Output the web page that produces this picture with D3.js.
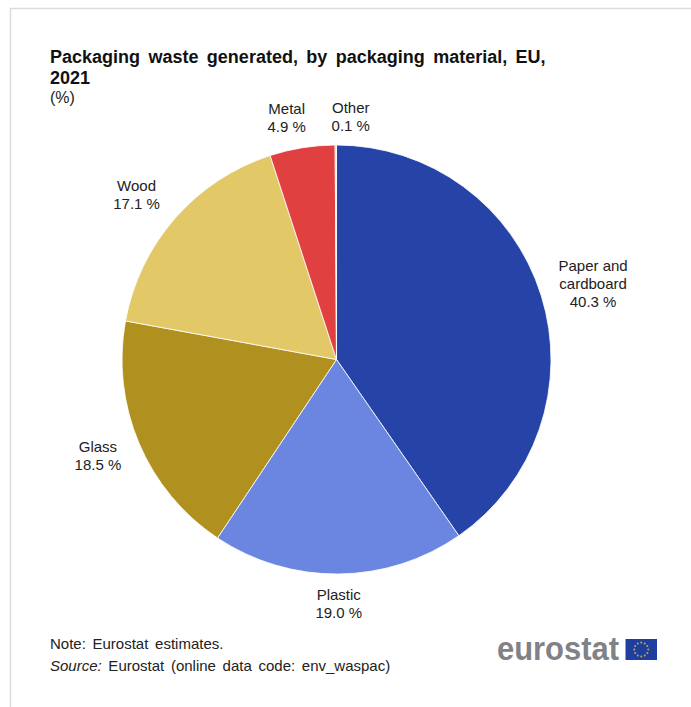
<!DOCTYPE html>
<html>
<head>
<meta charset="utf-8">
<script src="https://cdnjs.cloudflare.com/ajax/libs/d3/7.8.5/d3.min.js"></script>
<style>
  html, body { margin: 0; padding: 0; background: #fff; }
  svg { display: block; }
  text { font-family: "Liberation Sans", Arial, sans-serif; fill: #222; }
</style>
</head>
<body>
<svg id="chart" width="691" height="707"></svg>
<script>
const categories = ["Paper and cardboard", "Plastic", "Glass", "Wood", "Metal", "Other"];
const shares = [40.3, 19.0, 18.5, 17.1, 4.9, 0.1];
const sliceColors = ["#2644a7", "#6a86e0", "#b09120", "#e3c868", "#e04040", "#f0b8b0"];
const labelLines = [
  ["Paper and", "cardboard"],
  ["Plastic"],
  ["Glass"],
  ["Wood"],
  ["Metal"],
  ["Other"]
];
const titleLines = ["Packaging waste generated, by packaging material, EU,", "2021"];
const unitLabel = "(%)";
const noteText = "Note: Eurostat estimates.";
const sourceLabel = "Source:";
const sourceText = " Eurostat (online data code: env_waspac)";

const svg = d3.select("#chart");

// Frame: top and left rules only, running off the page on the other sides
svg.append("path")
  .attr("d", d3.line()([[10.5, 707], [10.5, 8.5], [691, 8.5]]))
  .attr("fill", "none")
  .attr("stroke", "#dcdcdc")
  .attr("stroke-width", 1.5);

// Title block
svg.append("g").selectAll("text").data(titleLines).join("text")
  .attr("x", 50)
  .attr("y", (d, i) => 63 + i * 21)
  .attr("font-size", 18)
  .attr("font-weight", 700)
  .attr("word-spacing", 3.4)
  .style("fill", "#111")
  .text(d => d);
svg.append("text").attr("x", 50).attr("y", 103).attr("font-size", 16).text(unitLabel);

// Pie
const cx = 336.5, cy = 359.5, radius = 214.5;
const pie = d3.pie().sort(null).value(d => d.value);
const arc = d3.arc().innerRadius(0).outerRadius(radius);
const rows = categories.map((name, i) => ({
  name, value: shares[i], color: sliceColors[i], lines: labelLines[i]
}));
const arcs = pie(rows);

const plot = svg.append("g").attr("transform", `translate(${cx},${cy})`);
plot.selectAll("path").data(arcs).join("path")
  .attr("d", arc)
  .attr("fill", d => d.data.color)
  .attr("stroke", "#fff")
  .attr("stroke-width", 0.8);

// Slice labels sit outside the rim; radius and nudge keep the narrow slices' labels apart
const labelRadius = d3.scaleOrdinal()
  .domain(categories)
  .range([250, 240, 257, 255, 240, 236]);
const labelNudge = d3.scaleOrdinal()
  .domain(categories)
  .range([[18, -1], [0, 5], [-2, -4], [-8, 3], [-11.5, -5], [15, -7]]);
const labels = plot.append("g").attr("text-anchor", "middle").attr("font-size", 15);
arcs.forEach(d => {
  const mid = (d.startAngle + d.endAngle) / 2;
  const r = labelRadius(d.data.name);
  const [dx, dy] = labelNudge(d.data.name);
  const x = Math.sin(mid) * r + dx;
  const y = -Math.cos(mid) * r + dy;
  const lines = d.data.lines.concat(d3.format(".1f")(d.data.value) + " %");
  const lineHeight = 18;
  const top = y - (lines.length - 1) * lineHeight / 2 + 5;
  lines.forEach((t, i) => {
    labels.append("text").attr("x", x).attr("y", top + i * lineHeight).text(t);
  });
});

// Footer
svg.append("text").attr("x", 50).attr("y", 649).attr("font-size", 15).attr("word-spacing", 2.5).text(noteText);
const source = svg.append("text").attr("x", 50).attr("y", 671).attr("font-size", 15).attr("word-spacing", 2.5);
source.append("tspan").attr("font-style", "italic").text(sourceLabel);
source.append("tspan").text(sourceText);

// Eurostat wordmark and flag
svg.append("text").attr("x", 497).attr("y", 660)
  .attr("font-size", 34).attr("font-weight", 700)
  .attr("textLength", 122).attr("lengthAdjust", "spacingAndGlyphs")
  .style("fill", "#7f8287").text("eurostat");
const flag = svg.append("g").attr("transform", "translate(625.5,639)");
flag.append("rect").attr("width", 31.5).attr("height", 21).attr("fill", "#1f3fa0");
const starAngle = d3.scaleLinear().domain([0, 12]).range([0, 2 * Math.PI]);
flag.selectAll("circle").data(d3.range(12)).join("circle")
  .attr("cx", d => 15.75 + Math.sin(starAngle(d)) * 7)
  .attr("cy", d => 10.5 - Math.cos(starAngle(d)) * 7)
  .attr("r", 1)
  .attr("fill", "#c8a832");
</script>
</body>
</html>
